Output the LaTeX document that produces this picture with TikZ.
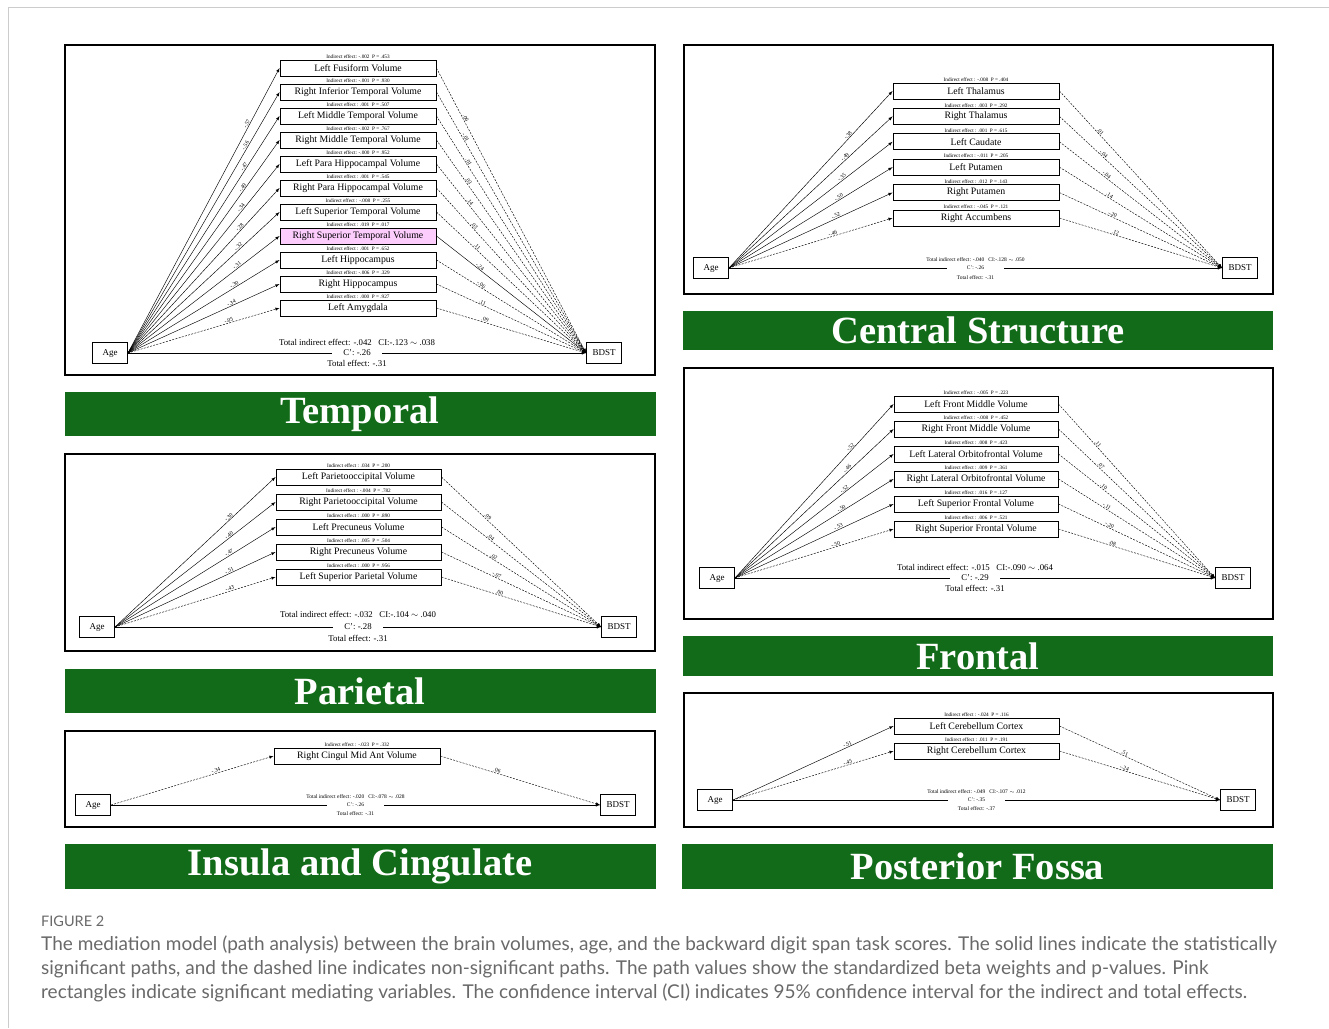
\documentclass[tikz,border=0pt]{standalone}
\usepackage{fontspec}
\setmainfont{Liberation Serif}
\newfontfamily\capfont{Lato}
\usetikzlibrary{arrows,positioning}
\definecolor{hdgreen}{RGB}{18,107,24}
\definecolor{sigpink}{RGB}{252,204,252}
\definecolor{capgray}{RGB}{105,105,105}
\tikzset{>=latex}
\newcommand{\fsz}[1]{\fontsize{#1}{#1}\selectfont}

\begin{document}
\begin{tikzpicture}[x=1pt,y=-1pt]
        % area = mediator box, endbox = Age / BDST, sig / ns = solid / dashed path
        \tikzstyle{panelbox}=[draw=black, line width=1.8pt]
        \tikzstyle{banner}=[fill=hdgreen, text=white, font=\fsz{38.5}\bfseries, inner sep=0pt, minimum width=591pt]
        \tikzstyle{area}=[draw=black, line width=0.9pt, fill=white, font=\fsz{9.8}, inner sep=0pt, minimum height=16pt]
        \tikzstyle{endbox}=[draw=black, line width=0.9pt, fill=white, font=\fsz{9}, inner sep=0pt, minimum width=35pt, minimum height=21pt]
        \tikzstyle{indlab}=[font=\fsz{5.2}, inner sep=0.6pt]
        \tikzstyle{coef}=[font=\fsz{5.6}, sloped, above, inner sep=0.6pt]
        \tikzstyle{sig}=[->, line width=0.45pt]
        \tikzstyle{ns}=[->, line width=0.45pt, dash pattern=on 2pt off 1.3pt]
        \tikzstyle{sumlab}=[font=\fsz{8.8}, inner sep=0.5pt]
        \tikzstyle{cplab}=[fill=white, font=\fsz{8.8}, inner xsep=11pt, inner ysep=0.5pt]
        \useasboundingbox (0,0) rectangle (1329,1028);
        \draw[black!20, line width=0.8pt] (8,1028) -- (8,7) -- (1329,7);

        % Temporal
        \draw[panelbox] (65,45) rectangle (655,375);
        \node[banner, minimum height=44pt] (tban) at (360,414) {Temporal};
        \begin{scope}[node distance=24pt, area/.append style={minimum width=156pt}]
                \node[endbox] (tage) at (110,353) {Age};
                \node[endbox] (tbdst) at (604,353) {BDST};
                \node[area] (t1) at (358,68) {Left Fusiform Volume};
                \node[area] (t2) [below of = t1] {Right Inferior Temporal Volume};
                \node[area] (t3) [below of = t2] {Left Middle Temporal Volume};
                \node[area] (t4) [below of = t3] {Right Middle Temporal Volume};
                \node[area] (t5) [below of = t4] {Left Para Hippocampal Volume};
                \node[area] (t6) [below of = t5] {Right Para Hippocampal Volume};
                \node[area] (t7) [below of = t6] {Left Superior Temporal Volume};
                \node[area, fill=sigpink] (t8) [below of = t7] {Right Superior Temporal Volume};
                \node[area] (t9) [below of = t8] {Left Hippocampus};
                \node[area] (t10) [below of = t9] {Right Hippocampus};
                \node[area] (t11) [below of = t10] {Left Amygdala};
                \node[indlab] (t1i) [above=0pt of t1] {Indirect effect: -.002 \ P = .453};
                \node[indlab] (t2i) [above=0pt of t2] {Indirect effect: -.001 \ P = .930};
                \node[indlab] (t3i) [above=0pt of t3] {Indirect effect : .001 \ P = .507};
                \node[indlab] (t4i) [above=0pt of t4] {Indirect effect: -.002 \ P = .767};
                \node[indlab] (t5i) [above=0pt of t5] {Indirect effect: -.000 \ P = .952};
                \node[indlab] (t6i) [above=0pt of t6] {Indirect effect : .001 \ P = .545};
                \node[indlab] (t7i) [above=0pt of t7] {Indirect effect : -.008 \ P = .255};
                \node[indlab] (t8i) [above=0pt of t8] {Indirect effect : .019 \ P = .017};
                \node[indlab] (t9i) [above=0pt of t9] {Indirect effect : .001 \ P = .652};
                \node[indlab] (t10i) [above=0pt of t10] {Indirect effect: -.006 \ P = .329};
                \node[indlab] (t11i) [above=0pt of t11] {Indirect effect : .000 \ P = .927};
                \draw[sig] (tage.east) -- node[coef, pos=.80] {-.57} (t1.west);
                \draw[sig] (tage.east) -- node[coef, pos=.79] {-.56} (t2.west);
                \draw[sig] (tage.east) -- node[coef, pos=.78] {-.47} (t3.west);
                \draw[sig] (tage.east) -- node[coef, pos=.77] {-.49} (t4.west);
                \draw[sig] (tage.east) -- node[coef, pos=.76] {-.34} (t5.west);
                \draw[sig] (tage.east) -- node[coef, pos=.75] {-.28} (t6.west);
                \draw[sig] (tage.east) -- node[coef, pos=.74] {-.32} (t7.west);
                \draw[sig] (tage.east) -- node[coef, pos=.73] {-.31} (t8.west);
                \draw[sig] (tage.east) -- node[coef, pos=.71] {-.30} (t9.west);
                \draw[sig] (tage.east) -- node[coef, pos=.69] {-.34} (t10.west);
                \draw[ns] (tage.east) -- node[coef, pos=.67] {-.05} (t11.west);
                \draw[ns] (t1.east) -- node[coef, pos=.18] {.06} (tbdst.west);
                \draw[ns] (t2.east) -- node[coef, pos=.18] {-.01} (tbdst.west);
                \draw[ns] (t3.east) -- node[coef, pos=.2] {.01} (tbdst.west);
                \draw[ns] (t4.east) -- node[coef, pos=.2] {.03} (tbdst.west);
                \draw[ns] (t5.east) -- node[coef, pos=.21] {.14} (tbdst.west);
                \draw[ns] (t6.east) -- node[coef, pos=.24] {.03} (tbdst.west);
                \draw[ns] (t7.east) -- node[coef, pos=.26] {.11} (tbdst.west);
                \draw[sig] (t8.east) -- node[coef, pos=.28] {-.24} (tbdst.west);
                \draw[ns] (t9.east) -- node[coef, pos=.29] {-.06} (tbdst.west);
                \draw[ns] (t10.east) -- node[coef, pos=.30] {.11} (tbdst.west);
                \draw[ns] (t11.east) -- node[coef, pos=.32] {.09} (tbdst.west);
                \draw[sig] (tage) -- node[cplab] (tcp) {C': -.26} (tbdst);
                \node[sumlab] (ttie) [above=2.5pt of tcp] {Total indirect effect: -.042 \ \ CI:-.123 $\sim$ .038};
                \node[sumlab] (tte) [below=2.5pt of tcp] {Total effect: -.31};
        \end{scope}

        % Parietal
        \draw[panelbox] (65,454) rectangle (655,651);
        \node[banner, minimum height=44pt] (pban) at (360,691) {Parietal};
        \begin{scope}[node distance=25pt, area/.append style={minimum width=165pt}]
                \node[endbox] (page) at (97,627) {Age};
                \node[endbox] (pbdst) at (619,627) {BDST};
                \node[area] (p1) at (358.5,477) {Left Parietooccipital Volume};
                \node[area] (p2) [below of = p1] {Right Parietooccipital Volume};
                \node[area] (p3) [below of = p2] {Left Precuneus Volume};
                \node[area] (p4) [below of = p3] {Right Precuneus Volume};
                \node[area] (p5) [below of = p4] {Left Superior Parietal Volume};
                \node[indlab] (p1i) [above=0pt of p1] {Indirect effect : .034 \ P = .200};
                \node[indlab] (p2i) [above=0pt of p2] {Indirect effect : -.004 \ P = .782};
                \node[indlab] (p3i) [above=0pt of p3] {Indirect effect : .000 \ P = .890};
                \node[indlab] (p4i) [above=0pt of p4] {Indirect effect : .005 \ P = .504};
                \node[indlab] (p5i) [above=0pt of p5] {Indirect effect : .000 \ P = .956};
                \draw[sig] (page.east) -- node[coef, pos=.72] {-.30} (p1.west);
                \draw[sig] (page.east) -- node[coef, pos=.72] {-.40} (p2.west);
                \draw[sig] (page.east) -- node[coef, pos=.72] {-.47} (p3.west);
                \draw[sig] (page.east) -- node[coef, pos=.72] {-.51} (p4.west);
                \draw[ns] (page.east) -- node[coef, pos=.72] {-.43} (p5.west);
                \draw[ns] (p1.east) -- node[coef, pos=.28] {.09} (pbdst.west);
                \draw[ns] (p2.east) -- node[coef, pos=.3] {.04} (pbdst.west);
                \draw[ns] (p3.east) -- node[coef, pos=.32] {.02} (pbdst.west);
                \draw[ns] (p4.east) -- node[coef, pos=.34] {-.07} (pbdst.west);
                \draw[ns] (p5.east) -- node[coef, pos=.36] {.00} (pbdst.west);
                \draw[sig] (page) -- node[cplab] (pcp) {C': -.28} (pbdst);
                \node[sumlab] (ptie) [above=5pt of pcp] {Total indirect effect: -.032 \ \ CI:-.104 $\sim$ .040};
                \node[sumlab] (pte) [below=3.5pt of pcp] {Total effect: -.31};
        \end{scope}

        % Insula and Cingulate
        \draw[panelbox] (65,731) rectangle (655,827);
        \node[banner, minimum height=45pt] (iban) at (360,866.5) {Insula and Cingulate};
        \begin{scope}[area/.append style={minimum width=166pt}, sumlab/.append style={font=\fsz{5.5}}, cplab/.append style={font=\fsz{5.5}, inner xsep=20pt}]
                \node[endbox] (iage) at (93,805) {Age};
                \node[endbox] (ibdst) at (618,805) {BDST};
                \node[area] (i1) at (357,756) {Right Cingul Mid Ant Volume};
                \node[indlab] (i1i) [above=0pt of i1] {Indirect effect : -.023 \ P = .332};
                \draw[ns] (iage.east) -- node[coef, pos=.65] {-.34} (i1.west);
                \draw[ns] (i1.east) -- node[coef, pos=.35] {.06} (ibdst.west);
                \draw[sig] (iage) -- node[cplab] (icp) {C': -.26} (ibdst);
                \node[sumlab] (itie) [above=3pt of icp] {Total indirect effect: -.020 \ \ CI:-.078 $\sim$ .028};
                \node[sumlab] (ite) [below=3pt of icp] {Total effect: -.31};
        \end{scope}

        % Central Structure
        \draw[panelbox] (684,45) rectangle (1273,294);
        \node[banner, minimum height=39pt, minimum width=590pt] (cban) at (978,330.5) {Central Structure};
        \begin{scope}[node distance=25.4pt, area/.append style={minimum width=166pt}, sumlab/.append style={font=\fsz{5.5}}, cplab/.append style={font=\fsz{5.5}, inner xsep=20pt}]
                \node[endbox] (cage) at (711,268) {Age};
                \node[endbox] (cbdst) at (1240,268) {BDST};
                \node[area] (c1) at (976,91) {Left Thalamus};
                \node[area] (c2) [below of = c1] {Right Thalamus};
                \node[area] (c3) [below of = c2] {Left Caudate};
                \node[area] (c4) [below of = c3] {Left Putamen};
                \node[area] (c5) [below of = c4] {Right Putamen};
                \node[area] (c6) [below of = c5] {Right Accumbens};
                \node[indlab] (c1i) [above=0pt of c1] {Indirect effect : -.008 \ P = .404};
                \node[indlab] (c2i) [above=0pt of c2] {Indirect effect : .003 \ P = .292};
                \node[indlab] (c3i) [above=0pt of c3] {Indirect effect : .001 \ P = .615};
                \node[indlab] (c4i) [above=0pt of c4] {Indirect effect : -.011 \ P = .205};
                \node[indlab] (c5i) [above=0pt of c5] {Indirect effect : .012 \ P = .143};
                \node[indlab] (c6i) [above=0pt of c6] {Indirect effect : -.045 \ P = .121};
                \draw[sig] (cage.east) -- node[coef, pos=.74] {-.38} (c1.west);
                \draw[sig] (cage.east) -- node[coef, pos=.72] {-.49} (c2.west);
                \draw[sig] (cage.east) -- node[coef, pos=.70] {-.35} (c3.west);
                \draw[sig] (cage.east) -- node[coef, pos=.68] {-.50} (c4.west);
                \draw[sig] (cage.east) -- node[coef, pos=.66] {-.52} (c5.west);
                \draw[ns] (cage.east) -- node[coef, pos=.64] {-.46} (c6.west);
                \draw[ns] (c1.east) -- node[coef, pos=.24] {.01} (cbdst.west);
                \draw[ns] (c2.east) -- node[coef, pos=.26] {-.04} (cbdst.west);
                \draw[ns] (c3.east) -- node[coef, pos=.28] {-.04} (cbdst.west);
                \draw[ns] (c4.east) -- node[coef, pos=.30] {.14} (cbdst.west);
                \draw[ns] (c5.east) -- node[coef, pos=.32] {-.20} (cbdst.west);
                \draw[ns] (c6.east) -- node[coef, pos=.34] {.12} (cbdst.west);
                \draw[sig] (cage) -- node[cplab] (ccp) {C': -.26} (cbdst);
                \node[sumlab] (ctie) [above=3.5pt of ccp] {Total indirect effect: -.040 \ \ CI:-.128 $\sim$ .050};
                \node[sumlab] (cte) [below=4.5pt of ccp] {Total effect: -.31};
        \end{scope}

        % Frontal
        \draw[panelbox] (684,368) rectangle (1273,619);
        \node[banner, minimum height=40pt, minimum width=590pt] (fban) at (978,656) {Frontal};
        \begin{scope}[node distance=25pt, area/.append style={minimum width=164pt}]
                \node[endbox] (fage) at (717,578) {Age};
                \node[endbox] (fbdst) at (1233,578) {BDST};
                \node[area] (f1) at (976,404) {Left Front Middle Volume};
                \node[area] (f2) [below of = f1] {Right Front Middle Volume};
                \node[area] (f3) [below of = f2] {Left Lateral Orbitofrontal Volume};
                \node[area] (f4) [below of = f3] {Right Lateral Orbitofrontal Volume};
                \node[area] (f5) [below of = f4] {Left Superior Frontal Volume};
                \node[area] (f6) [below of = f5] {Right Superior Frontal Volume};
                \node[indlab] (f1i) [above=0pt of f1] {Indirect effect : -.005 \ P = .223};
                \node[indlab] (f2i) [above=0pt of f2] {Indirect effect : -.008 \ P = .452};
                \node[indlab] (f3i) [above=0pt of f3] {Indirect effect : .008 \ P = .423};
                \node[indlab] (f4i) [above=0pt of f4] {Indirect effect : .009 \ P = .361};
                \node[indlab] (f5i) [above=0pt of f5] {Indirect effect : .016 \ P = .127};
                \node[indlab] (f6i) [above=0pt of f6] {Indirect effect : .006 \ P = .521};
                \draw[sig] (fage.east) -- node[coef, pos=.74] {-.52} (f1.west);
                \draw[sig] (fage.east) -- node[coef, pos=.72] {-.46} (f2.west);
                \draw[sig] (fage.east) -- node[coef, pos=.70] {-.52} (f3.west);
                \draw[sig] (fage.east) -- node[coef, pos=.68] {-.50} (f4.west);
                \draw[sig] (fage.east) -- node[coef, pos=.66] {-.53} (f5.west);
                \draw[ns] (fage.east) -- node[coef, pos=.64] {-.50} (f6.west);
                \draw[ns] (f1.east) -- node[coef, pos=.24] {.11} (fbdst.west);
                \draw[ns] (f2.east) -- node[coef, pos=.26] {.07} (fbdst.west);
                \draw[ns] (f3.east) -- node[coef, pos=.28] {.10} (fbdst.west);
                \draw[ns] (f4.east) -- node[coef, pos=.30] {-.11} (fbdst.west);
                \draw[ns] (f5.east) -- node[coef, pos=.32] {-.20} (fbdst.west);
                \draw[ns] (f6.east) -- node[coef, pos=.34] {.08} (fbdst.west);
                \draw[sig] (fage) -- node[cplab] (fcp) {C': -.29} (fbdst);
                \node[sumlab] (ftie) [above=3pt of fcp] {Total indirect effect: -.015 \ \ CI:-.090 $\sim$ .064};
                \node[sumlab] (fte) [below=3pt of fcp] {Total effect: -.31};
        \end{scope}

        % Posterior Fossa
        \draw[panelbox] (684,693) rectangle (1273,827);
        \node[banner, minimum height=45pt] (bban) at (977.5,866.5) {Posterior Fossa};
        \begin{scope}[node distance=25pt, area/.append style={minimum width=165pt}, sumlab/.append style={font=\fsz{5.5}}, cplab/.append style={font=\fsz{5.5}, inner xsep=20pt}]
                \node[endbox] (bage) at (715,800) {Age};
                \node[endbox] (bbdst) at (1238,800) {BDST};
                \node[area] (b1) at (976.5,726) {Left Cerebellum Cortex};
                \node[area] (b2) [below of = b1] {Right Cerebellum Cortex};
                \node[indlab] (b1i) [above=0pt of b1] {Indirect effect : -.024 \ P = .116};
                \node[indlab] (b2i) [above=0pt of b2] {Indirect effect : .011 \ P = .191};
                \draw[sig] (bage.east) -- node[coef, pos=.72] {-.51} (b1.west);
                \draw[ns] (bage.east) -- node[coef, pos=.72] {-.45} (b2.west);
                \draw[ns] (b1.east) -- node[coef, pos=.4] {.51} (bbdst.west);
                \draw[ns] (b2.east) -- node[coef, pos=.4] {-.24} (bbdst.west);
                \draw[sig] (bage) -- node[cplab] (bcp) {C': -.35} (bbdst);
                \node[sumlab] (btie) [above=3pt of bcp] {Total indirect effect: -.049 \ \ CI:-.107 $\sim$ .012};
                \node[sumlab] (bte) [below=3pt of bcp] {Total effect: -.37};
        \end{scope}

        % caption
        \node[anchor=west, inner sep=0pt, text=capgray, font=\capfont\fsz{14.5}] (capt) at (41,921) {FIGURE 2};
        \node[anchor=west, inner sep=0pt, text=capgray, font=\capfont\fsz{19}] (cap1) at (41,945) {The mediation model (path analysis) between the brain volumes, age, and the backward digit span task scores. The solid lines indicate the statistically};
        \node[anchor=west, inner sep=0pt, text=capgray, font=\capfont\fsz{19}] (cap2) at (41,969) {significant paths, and the dashed line indicates non-significant paths. The path values show the standardized beta weights and p-values. Pink};
        \node[anchor=west, inner sep=0pt, text=capgray, font=\capfont\fsz{19}] (cap3) at (41,993) {rectangles indicate significant mediating variables. The confidence interval (CI) indicates 95\% confidence interval for the indirect and total effects.};
\end{tikzpicture}
\end{document}
